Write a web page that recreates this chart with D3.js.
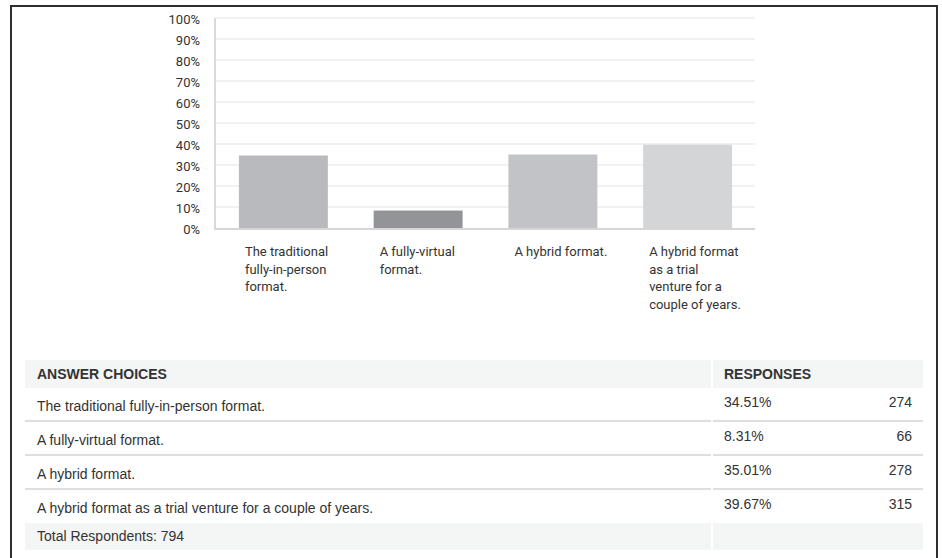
<!DOCTYPE html>
<html>
<head>
<meta charset="utf-8">
<script src="https://cdn.jsdelivr.net/npm/d3@7"></script>
<style>
  body { margin: 0; background: #fff; }
  .tick-y { font-family: Roboto, "Noto Sans", sans-serif; font-size: 13px; fill: #333; }
  .tick-x { font-family: Roboto, "Noto Sans", sans-serif; font-size: 13px; fill: #333; }
  .tbl { font-family: "Liberation Sans", Arial, sans-serif; font-size: 14px; fill: #333; }
  .tbl-head { font-weight: bold; }
</style>
</head>
<body>
<div class="chart"></div>
<script>
// answer choices and responses
var categories = [
    "The traditional fully-in-person format.",
    "A fully-virtual format.",
    "A hybrid format.",
    "A hybrid format as a trial venture for a couple of years."
];
var percents = [34.51, 8.31, 35.01, 39.67];
var counts = [274, 66, 278, 315];
var totalRespondents = 794;

// wrapped axis labels, as shown under the bars
var tickLabels = [
    ["The traditional", "fully-in-person", "format."],
    ["A fully-virtual", "format."],
    ["A hybrid format."],
    ["A hybrid format", "as a trial", "venture for a", "couple of years."]
];
var yTicks = [0, 10, 20, 30, 40, 50, 60, 70, 80, 90, 100];
var barColors = ["#b9babe", "#939497", "#c2c3c6", "#d4d5d7"];

var svgWidth = 942;
var svgHeight = 558;

var svg = d3.select(".chart")
    .append("svg")
    .attr("width", svgWidth)
    .attr("height", svgHeight);

// outer frame (top, left, right)
svg.append("path")
    .attr("d", "M11,558 V6 H937 V558")
    .attr("fill", "none")
    .attr("stroke", "#2e2e2e")
    .attr("stroke-width", 2);

// Plot area
var plot = { left: 216, right: 755, top: 18, bottom: 228 };

var xBand = d3.scaleBand()
    .domain(categories)
    .range([plot.left, plot.right])
    .paddingInner(0.34)
    .paddingOuter(0.17);

var yLinearScale = d3.scaleLinear()
    .domain([0, 100])
    .range([plot.bottom, plot.top]);

// gridlines
svg.append("g")
    .selectAll("line")
    .data(yTicks.filter(function(t) { return t > 0; }))
    .enter()
    .append("line")
    .attr("x1", plot.left)
    .attr("x2", plot.right)
    .attr("y1", function(d) { return yLinearScale(d); })
    .attr("y2", function(d) { return yLinearScale(d); })
    .attr("stroke", "#f1f1f1")
    .attr("stroke-width", 2);

// y axis labels
var leftAxis = d3.axisLeft(yLinearScale)
    .tickValues(yTicks)
    .tickSize(0)
    .tickPadding(0)
    .tickFormat(function(d) { return d + "%"; });

var yAxis = svg.append("g")
    .attr("transform", "translate(200,1.5)")
    .call(leftAxis);
yAxis.select(".domain").remove();
yAxis.selectAll("text")
    .attr("class", "tick-y")
    .attr("fill", null)
    .attr("font-size", null)
    .attr("font-family", null);

// bars
svg.append("g")
    .selectAll("rect")
    .data(percents)
    .enter()
    .append("rect")
    .attr("x", function(d, i) { return xBand(categories[i]); })
    .attr("y", function(d) { return yLinearScale(d); })
    .attr("width", xBand.bandwidth())
    .attr("height", function(d) { return yLinearScale(0) - yLinearScale(d); })
    .attr("fill", function(d, i) { return barColors[i]; });

// axis lines
svg.append("line")
    .attr("x1", plot.left - 1).attr("x2", plot.left - 1)
    .attr("y1", plot.top).attr("y2", plot.bottom + 1)
    .attr("stroke", "#d9d9d9").attr("stroke-width", 2);
svg.append("line")
    .attr("x1", plot.left - 2).attr("x2", plot.right)
    .attr("y1", plot.bottom + 1).attr("y2", plot.bottom + 1)
    .attr("stroke", "#d6d6d6").attr("stroke-width", 2);

// x labels, left aligned in a box centred on each band
var labelX = function(d) { return xBand(d) + xBand.bandwidth() / 2 - 38.5; };

var xLabels = svg.append("g")
    .selectAll("text")
    .data(categories)
    .enter()
    .append("text")
    .attr("class", "tick-x")
    .attr("x", labelX)
    .attr("y", 256);

xLabels.each(function(d, i) {
    var t = d3.select(this);
    tickLabels[i].forEach(function(line, j) {
        t.append("tspan")
            .attr("x", labelX(d))
            .attr("y", 256 + j * 17.7)
            .text(line);
    });
});

// Table
var table = svg.append("g");
var col1 = { x: 25, w: 686 };
var col2 = { x: 713, w: 210 };
var headTop = 360, headH = 28, rowH = 34, rowTop = 388;

[col1, col2].forEach(function(c) {
    table.append("rect")
        .attr("x", c.x).attr("y", headTop)
        .attr("width", c.w).attr("height", headH)
        .attr("fill", "#f4f5f5");
});

table.append("text").attr("class", "tbl tbl-head")
    .attr("x", 37).attr("y", 379).text("ANSWER CHOICES");
table.append("text").attr("class", "tbl tbl-head")
    .attr("x", 724).attr("y", 379).text("RESPONSES");

categories.forEach(function(cat, i) {
    var top = rowTop + i * rowH;
    table.append("text").attr("class", "tbl")
        .attr("x", 37).attr("y", top + 23).text(cat);
    table.append("text").attr("class", "tbl")
        .attr("x", 724).attr("y", top + 19)
        .text(percents[i].toFixed(2) + "%");
    table.append("text").attr("class", "tbl")
        .attr("x", 912).attr("y", top + 19)
        .attr("text-anchor", "end")
        .text(counts[i]);
    if (i < categories.length - 1) {
        [col1, col2].forEach(function(c) {
            table.append("rect")
                .attr("x", c.x).attr("y", top + rowH - 2)
                .attr("width", c.w).attr("height", 2)
                .attr("fill", "#dedede");
        });
    }
});

var totalTop = rowTop + categories.length * rowH - 1;
[col1, col2].forEach(function(c) {
    table.append("rect")
        .attr("x", c.x).attr("y", totalTop)
        .attr("width", c.w).attr("height", 27)
        .attr("fill", "#f4f5f5");
});
table.append("text").attr("class", "tbl")
    .attr("x", 37).attr("y", totalTop + 18)
    .text("Total Respondents: " + totalRespondents);
</script>
</body>
</html>
